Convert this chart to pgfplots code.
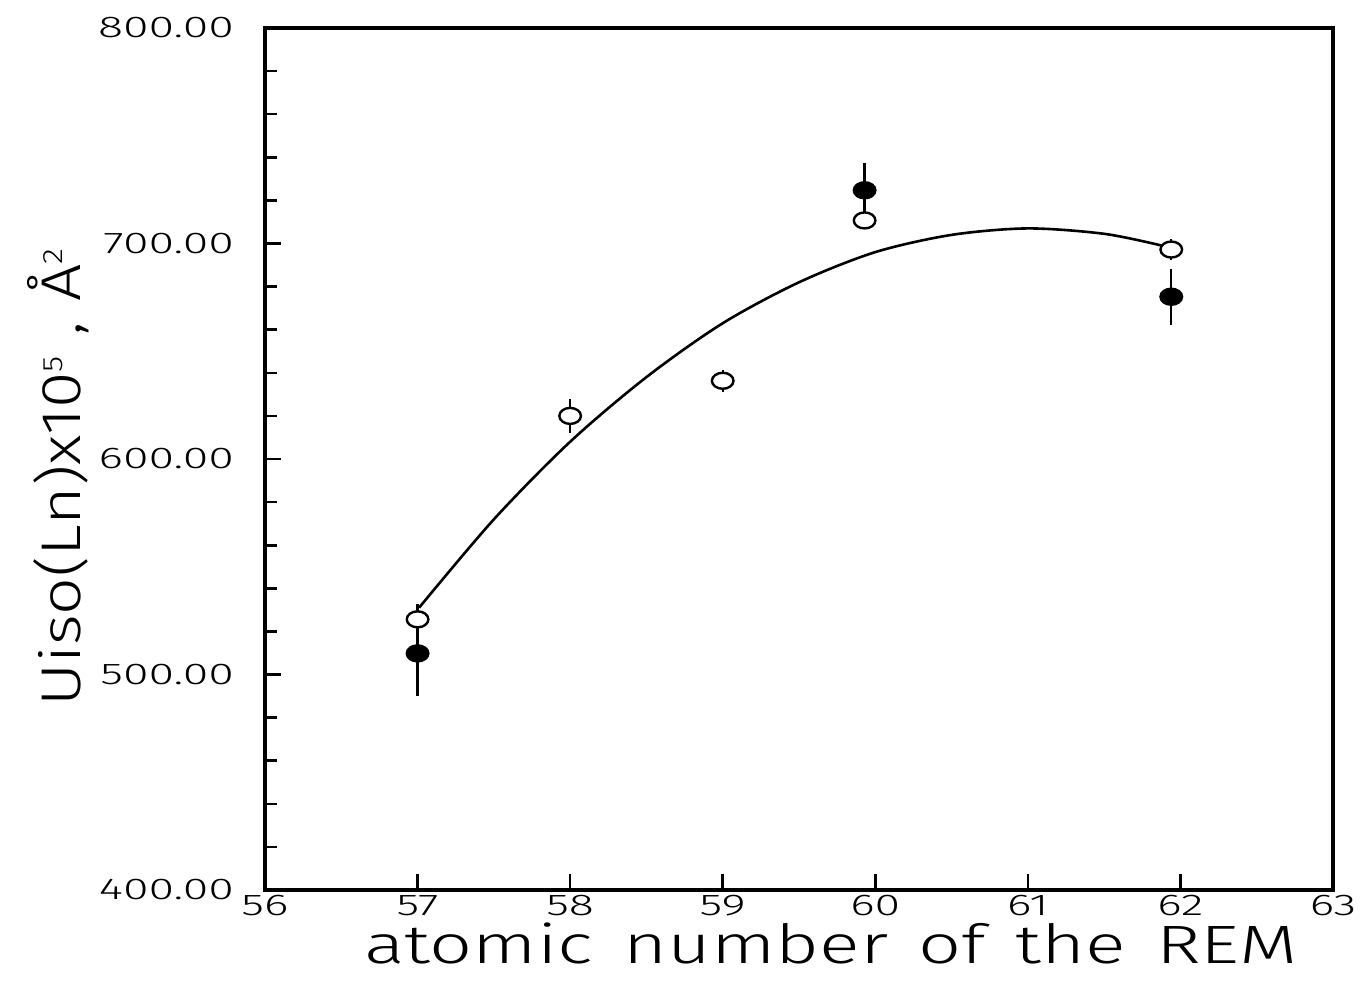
\documentclass[border=0pt]{standalone}
\usepackage{pgfplots}
\pgfplotsset{compat=1.18}
\usepackage{fontspec}
\setmainfont{Fira Sans Light}
\newfontfamily\tickfont[FakeStretch=1.55]{Fira Sans Light}
\newfontfamily\labfont[FakeStretch=1.4]{Fira Sans Light}
\newfontfamily\ylabfont[FakeStretch=1.18]{Fira Sans Light}

% open circles: x, U, error
\pgfplotstableread{
x      y      e
57     525.6  7
58     620.0  8
59     636.3  5
59.93  710.7  4
61.94  697.2  5
}\opendata
% filled circles
\pgfplotstableread{
x      y      e
57     509.8  20
59.93  724.7  12.5
61.94  675.3  13
}\filleddata

\begin{document}
\begin{tikzpicture}
\begin{axis}[
    scale only axis,
    width=534pt, height=431pt,
    xmin=56, xmax=63, ymin=400, ymax=800,
    axis line style={line width=2pt},
    xtick={56,57,58,59,60,61,62,63},
    xticklabels={56,57,58,59,60,61,62,63},
    ytick={400,500,600,700,800},
    yticklabels={400.00,500.00,600.00,700.00,800.00},
    minor y tick num=4,
    xtick pos=bottom, ytick pos=left,
    tick align=inside,
    major tick length=8pt, minor tick length=6pt,
    every tick/.style={line width=1.3pt, black},
    tick label style={font=\tickfont\fontsize{15}{15}\selectfont},
    yticklabel style={xshift=-12pt},
    xticklabel style={yshift=1pt},
    xlabel={\labfont\fontsize{27}{29}\selectfont atomic\hspace{15pt}number\hspace{15pt}of\hspace{15pt}the\hspace{15pt}REM},
    xlabel style={at={(axis description cs:0.53,-0.085)}, anchor=base, inner sep=0pt},
    ylabel={\ylabfont\fontsize{28}{30}\selectfont Uiso(Ln)x10$^{\mbox{\fontsize{14}{14}\selectfont 5}}$\hspace{10pt},\hspace{10pt}Å$^{\mbox{\fontsize{14}{14}\selectfont 2}}$},
    ylabel style={at={(axis description cs:-0.173,0.479)}, anchor=base, inner sep=0pt},
    clip=false,
]
\addplot[smooth, line width=1.3pt, no marks] coordinates {
    (57.01,531) (57.5,572) (58,608) (58.5,638) (59,663)
    (59.5,682) (60,696) (60.5,704) (61,707) (61.5,704.5)
    (61.88,699)
};
\addplot[only marks, mark=*, mark size=4pt, mark options={xscale=1.35, fill=black, line width=1.2pt},
    error bars/.cd, y dir=both, y explicit, error mark=none,
    error bar style={line width=1.2pt}]
    table[x=x, y=y, y error=e] {\filleddata};
\addplot[only marks, mark=*, mark size=4pt, mark options={xscale=1.35, fill=white, draw=black, line width=1.2pt},
    error bars/.cd, y dir=both, y explicit, error mark=none,
    error bar style={line width=1.2pt}]
    table[x=x, y=y, y error=e] {\opendata};
\end{axis}
\pgfresetboundingbox
\useasboundingbox ([shift={(-132.5pt,-46pt)}]current axis.south west) rectangle ([shift={(18pt,14pt)}]current axis.north east);
\end{tikzpicture}
\end{document}
